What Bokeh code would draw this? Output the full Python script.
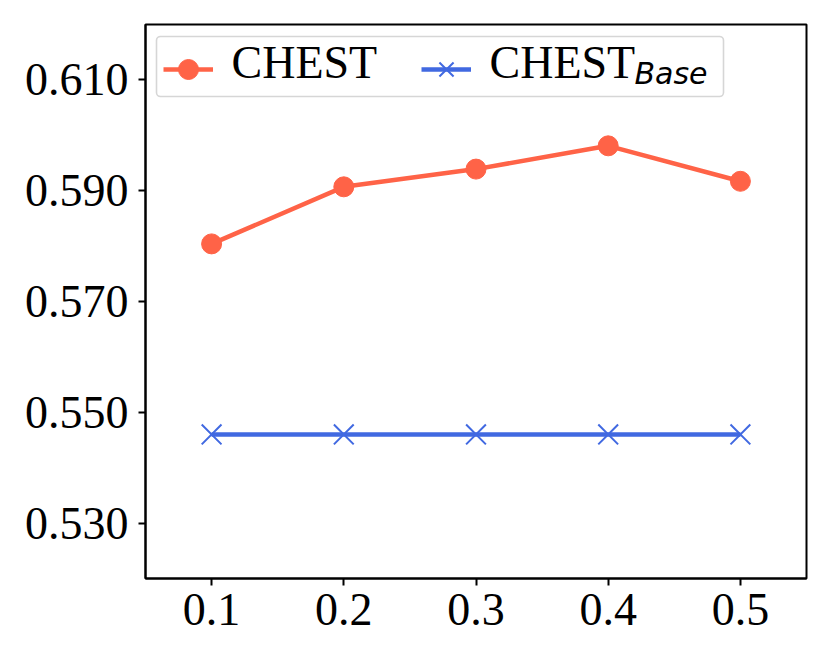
from bokeh.plotting import figure
from bokeh.models import (FixedTicker, PrintfTickFormatter, Legend, LegendItem,
                          Label, BoxAnnotation, Range1d)
from bokeh.embed import file_html
from bokeh.resources import INLINE

ratios = [0.1, 0.2, 0.3, 0.4, 0.5]
chest = [0.5804, 0.5907, 0.5939, 0.5981, 0.5917]
chest_base = [0.546, 0.546, 0.546, 0.546, 0.546]
x_ticks = [0.1, 0.2, 0.3, 0.4, 0.5]
y_ticks = [0.53, 0.55, 0.57, 0.59, 0.61]
series_names = ["CHEST", "CHEST"]
base_subscript = "Base"

C1 = "#FF6347"
C2 = "#4169E1"
SERIF = "Liberation Serif"

p = figure(width=814, height=648, output_backend="svg", toolbar_location=None,
           x_range=Range1d(0.05, 0.55), y_range=Range1d(0.52, 0.62),
           min_border_left=145, min_border_right=8, min_border_top=24,
           min_border_bottom=70)
p.grid.visible = False
p.outline_line_color = "black"
p.outline_line_width = 2
p.background_fill_color = "white"
p.border_fill_color = "white"

for ax in (p.xaxis[0], p.yaxis[0]):
    ax.axis_line_width = 2
    ax.axis_line_color = "black"
    ax.major_tick_line_width = 2
    ax.major_tick_out = 7
    ax.major_tick_in = 0
    ax.minor_tick_out = 0
    ax.minor_tick_in = 0
    ax.major_label_text_font = SERIF
    ax.major_label_text_font_size = "46px"
    ax.major_label_text_color = "black"

p.xaxis.ticker = FixedTicker(ticks=x_ticks)
p.xaxis.formatter = PrintfTickFormatter(format="%.1f")
p.yaxis.ticker = FixedTicker(ticks=y_ticks)
p.yaxis.formatter = PrintfTickFormatter(format="%.3f")
p.yaxis.major_label_standoff = 10
p.xaxis.major_label_standoff = 8

r1 = p.line(ratios, chest, line_color=C1, line_width=4.5)
s1 = p.scatter(ratios, chest, marker="circle", size=20, fill_color=C1, line_color=C1)
r2 = p.line(ratios, chest_base, line_color=C2, line_width=4.5)
s2 = p.scatter(ratios, chest_base, marker="x", size=28, line_color=C2, line_width=2)

# legend frame (screen units, relative to the plot frame)
box = BoxAnnotation(left=11, right=578, top=542, bottom=482,
                    left_units="screen", right_units="screen",
                    top_units="screen", bottom_units="screen",
                    fill_color="white", fill_alpha=0.8,
                    line_color="#cccccc", line_alpha=0.8, line_width=1.6,
                    border_radius=4)
p.add_layout(box)

# legend glyph samples (labels drawn separately for exact placement)
legend = Legend(items=[LegendItem(label="", renderers=[r1, s1]),
                       LegendItem(label="", renderers=[r2, s2])],
                location=(18, 484), orientation="horizontal",
                margin=0, padding=0, spacing=208,
                glyph_width=50, glyph_height=50, label_height=0,
                label_width=0, label_standoff=0,
                label_text_font_size="1px",
                border_line_alpha=0, background_fill_alpha=0)
p.add_layout(legend)

for name, lx in zip(series_names, [86, 344]):
    p.add_layout(Label(x=lx, y=516, x_units="screen", y_units="screen", text=name,
                       text_font=SERIF, text_font_size="46px",
                       text_baseline="alphabetic", text_color="black"))

sub = Label(x=489, y=505, x_units="screen", y_units="screen", text=base_subscript,
            text_font="DejaVu Sans", text_font_style="italic",
            text_font_size="30px", text_baseline="alphabetic", text_color="black")
p.add_layout(sub)

open("out.html", "w").write(file_html(p, INLINE))
